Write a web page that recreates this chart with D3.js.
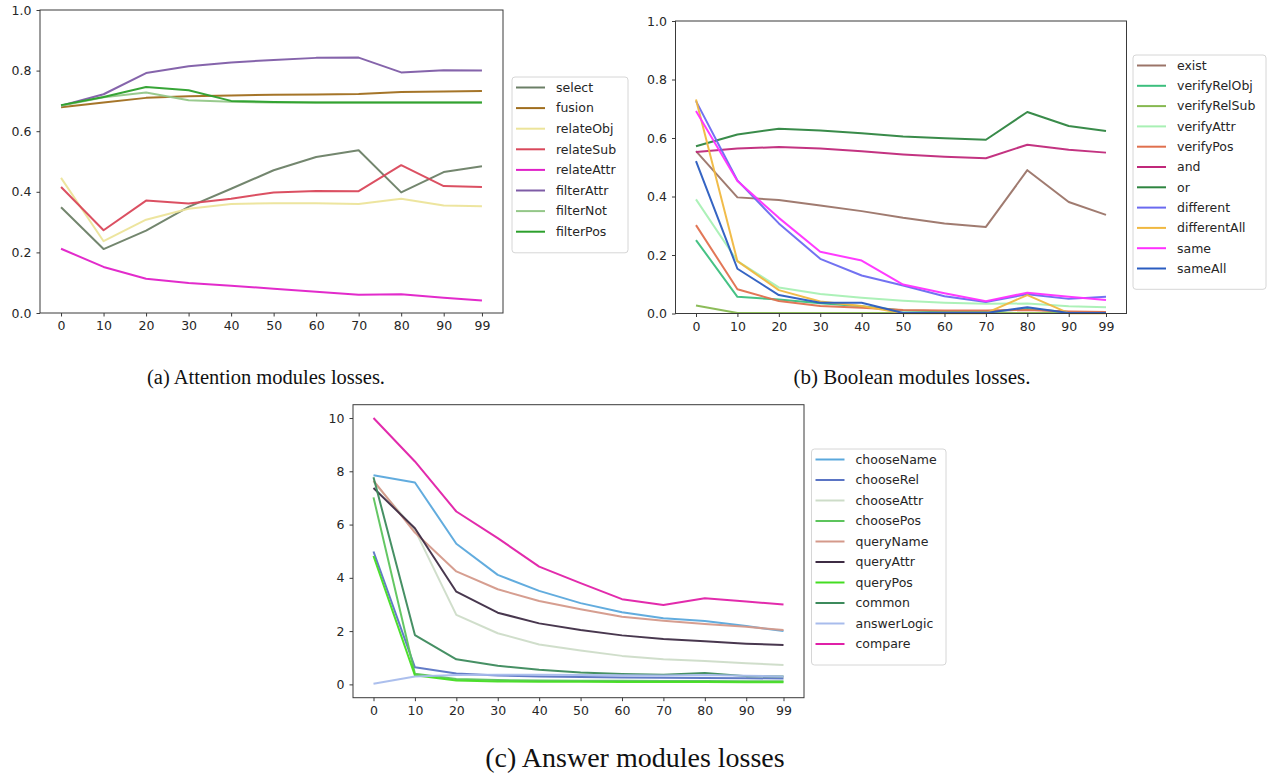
<!DOCTYPE html>
<meta charset="utf-8">
<head>
  <title>Module losses</title>
  <script src="https://d3js.org/d3.v7.min.js"></script>
  <style>
    body { margin: 0; background: #fff; }
    .tick text { font-family: "DejaVu Sans", sans-serif; font-size: 12.5px; fill: #262626; }
    .caption { font-family: "Liberation Serif", "DejaVu Serif", serif; fill: #111; }
    .legend text { font-family: "DejaVu Sans", sans-serif; font-size: 12.5px; fill: #262626; }
  </style>
</head>
<body>
<svg width="1268" height="773"></svg>
<script>
// x values (epochs)
var epochs = [0, 10, 20, 30, 40, 50, 60, 70, 80, 90, 99];

// (a) attention modules
var attNames = ["select", "fusion", "relateObj", "relateSub", "relateAttr", "filterAttr", "filterNot", "filterPos"];
var attColors = ["#6b7f66", "#a06e1e", "#ece49a", "#d9475a", "#e020c8", "#7e5ca6", "#94c788", "#2ca02c"];
var attSelect     = [0.349, 0.211, 0.272, 0.350, 0.410, 0.471, 0.515, 0.537, 0.398, 0.465, 0.484];
var attFusion     = [0.679, 0.695, 0.710, 0.715, 0.718, 0.720, 0.721, 0.723, 0.729, 0.731, 0.733];
var attRelateObj  = [0.446, 0.237, 0.308, 0.344, 0.360, 0.362, 0.362, 0.360, 0.377, 0.355, 0.352];
var attRelateSub  = [0.416, 0.273, 0.371, 0.361, 0.377, 0.398, 0.403, 0.402, 0.488, 0.419, 0.416];
var attRelateAttr = [0.212, 0.152, 0.113, 0.099, 0.090, 0.080, 0.070, 0.060, 0.062, 0.050, 0.041];
var attFilterAttr = [0.684, 0.722, 0.792, 0.814, 0.827, 0.835, 0.842, 0.843, 0.794, 0.801, 0.800];
var attFilterNot  = [0.684, 0.712, 0.728, 0.702, 0.697, 0.695, 0.695, 0.695, 0.695, 0.695, 0.695];
var attFilterPos  = [0.686, 0.713, 0.746, 0.735, 0.700, 0.696, 0.695, 0.695, 0.695, 0.695, 0.695];

// (b) boolean modules
var boolNames = ["exist", "verifyRelObj", "verifyRelSub", "verifyAttr", "verifyPos", "and", "or", "different", "differentAll", "same", "sameAll"];
var boolColors = ["#9b7468", "#3cbf7e", "#86b850", "#a8f0b4", "#e0704e", "#c0287a", "#2e8540", "#6a6af0", "#f0b840", "#ff30ff", "#2a5cc0"];
var boolExist        = [0.555, 0.397, 0.388, 0.369, 0.350, 0.327, 0.308, 0.296, 0.490, 0.381, 0.337];
var boolVerifyRelObj = [0.251, 0.057, 0.048, 0.035, 0.025, 0.010, 0.008, 0.007, 0.015, 0.005, 0.005];
var boolVerifyRelSub = [0.027, 0.002, 0.002, 0.002, 0.002, 0.002, 0.002, 0.002, 0.002, 0.002, 0.002];
var boolVerifyAttr   = [0.390, 0.179, 0.089, 0.067, 0.054, 0.044, 0.037, 0.033, 0.034, 0.025, 0.021];
var boolVerifyPos    = [0.302, 0.083, 0.043, 0.026, 0.020, 0.012, 0.010, 0.010, 0.012, 0.007, 0.005];
var boolAnd          = [0.552, 0.564, 0.569, 0.564, 0.555, 0.544, 0.536, 0.531, 0.577, 0.560, 0.550];
var boolOr           = [0.572, 0.612, 0.632, 0.626, 0.616, 0.605, 0.599, 0.594, 0.689, 0.641, 0.624];
var boolDifferent    = [0.726, 0.455, 0.308, 0.187, 0.130, 0.096, 0.059, 0.039, 0.066, 0.050, 0.057];
var boolDifferentAll = [0.732, 0.179, 0.080, 0.041, 0.026, 0.001, 0.001, 0.001, 0.063, 0.001, 0.001];
var boolSame         = [0.692, 0.453, 0.327, 0.211, 0.181, 0.099, 0.069, 0.042, 0.071, 0.057, 0.046];
var boolSameAll      = [0.521, 0.153, 0.063, 0.037, 0.037, 0.002, 0.002, 0.002, 0.021, 0.002, 0.002];

// (c) answer modules
var ansNames = ["chooseName", "chooseRel", "chooseAttr", "choosePos", "queryName", "queryAttr", "queryPos", "common", "answerLogic", "compare"];
var ansColors = ["#5aa8dc", "#5a74c4", "#cddcc8", "#5cc45c", "#d4998a", "#3e2c44", "#44dd22", "#3c8a5c", "#a8bcec", "#e020a8"];
var ansChooseName  = [7.85, 7.58, 5.28, 4.11, 3.51, 3.05, 2.71, 2.48, 2.38, 2.19, 2.00];
var ansChooseRel   = [4.99, 0.64, 0.41, 0.33, 0.30, 0.28, 0.26, 0.25, 0.24, 0.23, 0.22];
var ansChooseAttr  = [7.60, 5.80, 2.61, 1.92, 1.50, 1.27, 1.07, 0.94, 0.88, 0.79, 0.73];
var ansChoosePos   = [7.02, 0.40, 0.20, 0.16, 0.15, 0.14, 0.14, 0.13, 0.13, 0.12, 0.12];
var ansQueryName   = [7.65, 5.70, 4.24, 3.57, 3.13, 2.82, 2.54, 2.39, 2.27, 2.16, 2.04];
var ansQueryAttr   = [7.37, 5.86, 3.48, 2.69, 2.29, 2.04, 1.84, 1.70, 1.62, 1.53, 1.48];
var ansQueryPos    = [4.82, 0.34, 0.15, 0.11, 0.10, 0.10, 0.09, 0.09, 0.09, 0.08, 0.08];
var ansCommon      = [7.78, 1.85, 0.94, 0.70, 0.55, 0.45, 0.39, 0.36, 0.43, 0.31, 0.30];
var ansAnswerLogic = [0.02, 0.30, 0.35, 0.36, 0.36, 0.35, 0.34, 0.33, 0.35, 0.32, 0.30];
var ansCompare     = [10.0, 8.37, 6.49, 5.49, 4.42, 3.80, 3.20, 2.98, 3.23, 3.11, 3.00];

var svg = d3.select("svg");

function drawPanel(p) {
  var g = svg.append("g");
  var x = d3.scaleLinear().domain([-4.95, 103.95]).range([p.left, p.right]);
  var y = d3.scaleLinear().domain(p.yDomain).range([p.bottom, p.top]);

  var line = d3.line()
    .x(function(d, i) { return x(epochs[i]); })
    .y(function(d) { return y(d); });

  p.series.forEach(function(s, i) {
    g.append("path")
      .attr("d", line(s))
      .attr("fill", "none")
      .attr("stroke", p.colors[i])
      .attr("stroke-width", 2)
      .attr("stroke-linejoin", "round")
      .attr("stroke-opacity", 0.95);
  });

  // frame
  g.append("rect")
    .attr("x", p.left).attr("y", p.top)
    .attr("width", p.right - p.left).attr("height", p.bottom - p.top)
    .attr("fill", "none").attr("stroke", "#3a3a3a").attr("stroke-width", 1);

  var xAxis = g.append("g")
    .attr("transform", "translate(0," + p.bottom + ")")
    .call(d3.axisBottom(x).tickValues(epochs).tickFormat(d3.format("d")).tickSize(3.5).tickPadding(5));
  var yAxis = g.append("g")
    .attr("transform", "translate(" + p.left + ",0)")
    .call(d3.axisLeft(y).tickValues(p.yTicks).tickFormat(p.yFormat).tickSize(3.5).tickPadding(5));
  [xAxis, yAxis].forEach(function(a) {
    a.select(".domain").remove();
    a.selectAll(".tick line").attr("stroke", "#3a3a3a");
  });

  // legend
  var lg = svg.append("g").attr("class", "legend");
  lg.append("rect")
    .attr("x", p.legX).attr("y", p.legY)
    .attr("width", p.legW).attr("height", p.names.length * p.legStep + 11)
    .attr("rx", 3)
    .attr("fill", "#fff").attr("stroke", "#d6d6d6");
  var item = lg.selectAll("g.item")
    .data(p.names)
    .enter().append("g")
    .attr("class", "item")
    .attr("transform", function(d, i) { return "translate(" + (p.legX + 4) + "," + (p.legY + 10.5 + i * p.legStep) + ")"; });
  item.append("line")
    .attr("x1", 0).attr("x2", 29)
    .attr("stroke", function(d, i) { return p.colors[i]; })
    .attr("stroke-width", 2);
  item.append("text")
    .attr("x", 40).attr("dy", "0.35em")
    .text(function(d) { return d; });

  svg.append("text")
    .attr("class", "caption")
    .attr("x", p.capX).attr("y", p.capY)
    .attr("text-anchor", "middle")
    .style("font-size", p.capSize + "px")
    .text(p.caption);
}

drawPanel({
  left: 40, right: 503, top: 10, bottom: 313,
  yDomain: [0, 1], yTicks: [0, 0.2, 0.4, 0.6, 0.8, 1.0], yFormat: d3.format(".1f"),
  names: attNames, colors: attColors,
  series: [attSelect, attFusion, attRelateObj, attRelateSub, attRelateAttr, attFilterAttr, attFilterNot, attFilterPos],
  legX: 512, legY: 77, legW: 116, legStep: 20.6,
  caption: "(a) Attention modules losses.", capX: 266, capY: 384, capSize: 20.5
});

drawPanel({
  left: 675.5, right: 1126.5, top: 21, bottom: 313.5,
  yDomain: [0, 1], yTicks: [0, 0.2, 0.4, 0.6, 0.8, 1.0], yFormat: d3.format(".1f"),
  names: boolNames, colors: boolColors,
  series: [boolExist, boolVerifyRelObj, boolVerifyRelSub, boolVerifyAttr, boolVerifyPos, boolAnd, boolOr, boolDifferent, boolDifferentAll, boolSame, boolSameAll],
  legX: 1133, legY: 55, legW: 133, legStep: 20.3,
  caption: "(b) Boolean modules losses.", capX: 912, capY: 384, capSize: 21
});

drawPanel({
  left: 353, right: 804, top: 404.7, bottom: 697.7,
  yDomain: [-0.5, 10.5], yTicks: [0, 2, 4, 6, 8, 10], yFormat: d3.format("d"),
  names: ansNames, colors: ansColors,
  series: [ansChooseName, ansChooseRel, ansChooseAttr, ansChoosePos, ansQueryName, ansQueryAttr, ansQueryPos, ansCommon, ansAnswerLogic, ansCompare],
  legX: 811.5, legY: 449, legW: 134.5, legStep: 20.5,
  caption: "(c) Answer modules losses", capX: 635, capY: 767, capSize: 28
});
</script>
</body>
